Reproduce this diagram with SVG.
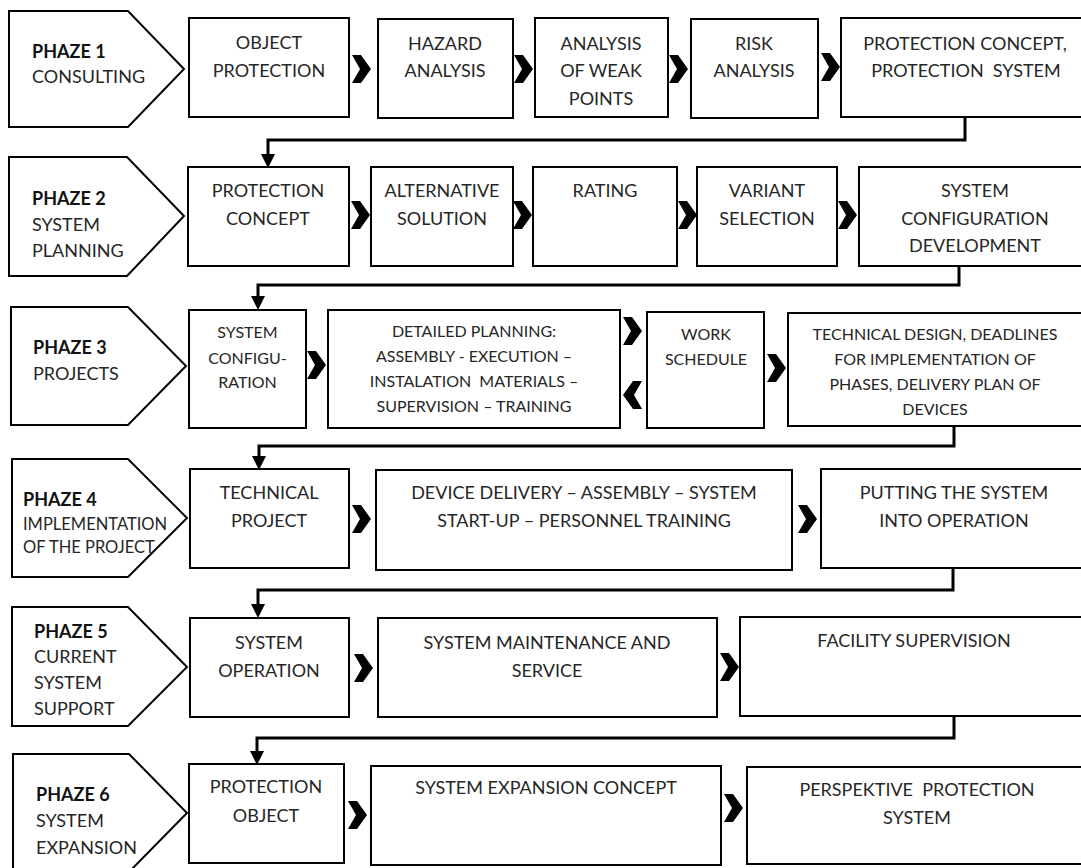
<svg xmlns="http://www.w3.org/2000/svg" width="1081" height="868" viewBox="0 0 1081 868">
<style>
.box{fill:#fff;stroke:#000;stroke-width:2}
.ph{fill:#fff;stroke:#000;stroke-width:2;stroke-linejoin:miter}
.t{font-family:Lato,"Liberation Sans",sans-serif;font-size:18px;fill:#262626;text-anchor:middle}
.pl{font-family:Lato,"Liberation Sans",sans-serif;font-size:18px;fill:#262626;text-anchor:start}
.s{font-size:16px}
.xs{font-size:16.5px}
.b{font-weight:bold;fill:#111}
.con{fill:none;stroke:#000;stroke-width:3;stroke-linejoin:miter}
.chev{fill:#000}
</style>
<defs>
<marker id="arr" viewBox="0 0 14 14" refX="0" refY="7" markerWidth="14" markerHeight="14" orient="auto" markerUnits="userSpaceOnUse"><path d="M0,0 L14,7 L0,14 z" fill="#000"/></marker>
<path id="chR" d="M0,0 L9,0 L19,14 L9,28 L0,28 L8,14 Z"/>
<path id="chL" d="M19,0 L10,0 L0,14 L10,28 L19,28 L11,14 Z"/>
</defs>

<!-- Row 1 -->
<g id="phase1">
<polygon class="ph" points="9,11 128,11 184,69 128,127 9,127"/>
<text class="pl b" x="32" y="58">PHAZE 1</text>
<text class="pl" x="32" y="83">CONSULTING</text>
</g>
<g id="n1a"><rect class="box" x="189" y="18" width="160" height="99"/>
<text class="t" x="269" y="49">OBJECT</text><text class="t" x="269" y="77">PROTECTION</text></g>
<g id="n1b"><rect class="box" x="378" y="19" width="135" height="99"/>
<text class="t" x="445" y="50">HAZARD</text><text class="t" x="445" y="77">ANALYSIS</text></g>
<g id="n1c"><rect class="box" x="535" y="18" width="133" height="99"/>
<text class="t" x="601" y="50">ANALYSIS</text><text class="t" x="601" y="77">OF WEAK</text><text class="t" x="601" y="105">POINTS</text></g>
<g id="n1d"><rect class="box" x="691" y="19" width="127" height="99"/>
<text class="t" x="754" y="50">RISK</text><text class="t" x="754" y="77">ANALYSIS</text></g>
<g id="n1e"><rect class="box" x="841" y="18" width="250" height="99"/>
<text class="t" x="965" y="50">PROTECTION CONCEPT,</text><text class="t" x="966" y="77" xml:space="preserve">PROTECTION  SYSTEM</text></g>

<!-- Row 2 -->
<g id="phase2">
<polygon class="ph" points="9,157 127,157 184,216 127,276 9,276"/>
<text class="pl b" x="32" y="205">PHAZE 2</text>
<text class="pl" x="32" y="231">SYSTEM</text>
<text class="pl" x="32" y="257">PLANNING</text>
</g>
<g id="n2a"><rect class="box" x="188" y="167" width="161" height="99"/>
<text class="t" x="268" y="197">PROTECTION</text><text class="t" x="268" y="225">CONCEPT</text></g>
<g id="n2b"><rect class="box" x="371" y="167" width="142" height="99"/>
<text class="t" x="442" y="197">ALTERNATIVE</text><text class="t" x="442" y="225">SOLUTION</text></g>
<g id="n2c"><rect class="box" x="533" y="167" width="144" height="99"/>
<text class="t" x="605" y="197">RATING</text></g>
<g id="n2d"><rect class="box" x="697" y="167" width="140" height="99"/>
<text class="t" x="767" y="197">VARIANT</text><text class="t" x="767" y="225">SELECTION</text></g>
<g id="n2e"><rect class="box" x="859" y="167" width="232" height="99"/>
<text class="t" x="975" y="197">SYSTEM</text><text class="t" x="975" y="225">CONFIGURATION</text><text class="t" x="975" y="252">DEVELOPMENT</text></g>

<!-- Row 3 -->
<g id="phase3">
<polygon class="ph" points="11,307 128,307 186,366 128,425 11,425"/>
<text class="pl b" x="33" y="354">PHAZE 3</text>
<text class="pl" x="33" y="380">PROJECTS</text>
</g>
<g id="n3a"><rect class="box" x="189" y="310" width="117" height="118"/>
<text class="t s" x="247.5" y="338">SYSTEM</text><text class="t s" x="247.5" y="364">CONFIGU-</text><text class="t s" x="247.5" y="388">RATION</text></g>
<g id="n3b"><rect class="box" x="328" y="310" width="292" height="118"/>
<text class="t s" x="474" y="337">DETAILED PLANNING:</text>
<text class="t s" x="474" y="362">ASSEMBLY - EXECUTION –</text>
<text class="t s" x="474" y="387" xml:space="preserve">INSTALATION  MATERIALS –</text>
<text class="t s" x="474" y="412">SUPERVISION – TRAINING</text></g>
<g id="n3c"><rect class="box" x="647" y="312" width="117" height="116"/>
<text class="t s" x="706" y="340">WORK</text><text class="t s" x="706" y="365">SCHEDULE</text></g>
<g id="n3d"><rect class="box" x="788" y="313" width="303" height="113"/>
<text class="t s" x="935" y="340">TECHNICAL DESIGN, DEADLINES</text>
<text class="t s" x="935" y="365">FOR IMPLEMENTATION OF</text>
<text class="t s" x="935" y="390">PHASES, DELIVERY PLAN OF</text>
<text class="t s" x="935" y="415">DEVICES</text></g>

<!-- Row 4 -->
<g id="phase4">
<polygon class="ph" points="12,459 128,459 187,518 128,577 12,577"/>
<text class="pl b" x="23" y="506">PHAZE 4</text>
<text class="pl xs" x="23" y="530">IMPLEMENTATION</text>
<text class="pl xs" x="23" y="553">OF THE PROJECT</text>
</g>
<g id="n4a"><rect class="box" x="190" y="469" width="159" height="99"/>
<text class="t" x="269" y="499">TECHNICAL</text><text class="t" x="269" y="527">PROJECT</text></g>
<g id="n4b"><rect class="box" x="376" y="470" width="416" height="100"/>
<text class="t" x="584" y="499">DEVICE DELIVERY – ASSEMBLY – SYSTEM</text><text class="t" x="584" y="527">START-UP – PERSONNEL TRAINING</text></g>
<g id="n4c"><rect class="box" x="821" y="469" width="270" height="99"/>
<text class="t" x="954" y="499">PUTTING THE SYSTEM</text><text class="t" x="954" y="527">INTO OPERATION</text></g>

<!-- Row 5 -->
<g id="phase5">
<polygon class="ph" points="12,607 128,607 187,667 128,726 12,726"/>
<text class="pl b" x="34" y="638">PHAZE 5</text>
<text class="pl" x="34" y="663">CURRENT</text>
<text class="pl" x="34" y="689">SYSTEM</text>
<text class="pl" x="34" y="715">SUPPORT</text>
</g>
<g id="n5a"><rect class="box" x="190" y="618" width="159" height="99"/>
<text class="t" x="269" y="649">SYSTEM</text><text class="t" x="269" y="677">OPERATION</text></g>
<g id="n5b"><rect class="box" x="378" y="618" width="339" height="99"/>
<text class="t" x="547" y="649">SYSTEM MAINTENANCE AND</text><text class="t" x="547" y="677">SERVICE</text></g>
<g id="n5c"><rect class="box" x="740" y="617" width="351" height="99"/>
<text class="t" x="914" y="647">FACILITY SUPERVISION</text></g>

<!-- Row 6 -->
<g id="phase6">
<polygon class="ph" points="13,754 129,754 187,813 129,872 13,872"/>
<text class="pl b" x="36" y="801">PHAZE 6</text>
<text class="pl" x="36" y="827">SYSTEM</text>
<text class="pl" x="36" y="854">EXPANSION</text>
</g>
<g id="n6a"><rect class="box" x="189" y="764" width="155" height="99"/>
<text class="t" x="266" y="793">PROTECTION</text><text class="t" x="266" y="822">OBJECT</text></g>
<g id="n6b"><rect class="box" x="371" y="766" width="350" height="99"/>
<text class="t" x="546" y="794">SYSTEM EXPANSION CONCEPT</text></g>
<g id="n6c"><rect class="box" x="747" y="767" width="344" height="97"/>
<text class="t" x="917" y="796" xml:space="preserve">PERSPEKTIVE  PROTECTION</text><text class="t" x="917" y="824">SYSTEM</text></g>

<!-- Connectors -->
<g id="connectors">
<path class="con" d="M965,117 V140 H268 V154" marker-end="url(#arr)"/>
<path class="con" d="M959,266 V285 H258 V296" marker-end="url(#arr)"/>
<path class="con" d="M954,426 V446 H259 V456" marker-end="url(#arr)"/>
<path class="con" d="M953,568 V590 H258 V604" marker-end="url(#arr)"/>
<path class="con" d="M954,716 V738 H257 V751" marker-end="url(#arr)"/>
<g class="chev">
<use href="#chR" x="352" y="55"/>
<use href="#chR" x="514" y="55"/>
<use href="#chR" x="669" y="55"/>
<use href="#chR" x="821" y="53"/>
<use href="#chR" x="351" y="201"/>
<use href="#chR" x="513" y="201"/>
<use href="#chR" x="678" y="201"/>
<use href="#chR" x="838" y="201"/>
<use href="#chR" x="307" y="351"/>
<use href="#chR" x="623" y="317"/>
<use href="#chL" x="623" y="381"/>
<use href="#chR" x="767" y="354"/>
<use href="#chR" x="352" y="505"/>
<use href="#chR" x="798" y="505"/>
<use href="#chR" x="354" y="654"/>
<use href="#chR" x="720" y="653"/>
<use href="#chR" x="348" y="801"/>
<use href="#chR" x="724" y="794"/>
</g>
</g>
</svg>
